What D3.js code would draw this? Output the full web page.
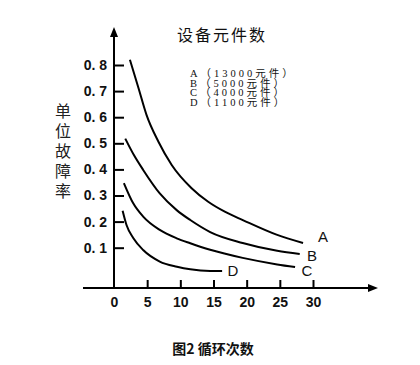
<!DOCTYPE html>
<html><head><meta charset="utf-8">
<script src="https://cdn.jsdelivr.net/npm/d3@7"></script>
<style>body{margin:0;background:#fff}svg{display:block}</style>
</head><body>
<svg id="c" width="420" height="365"></svg>
<script>
const title = "设备元件数";
const yLabel = "单位故障率";
const caption = "图2 循环次数";
const xTicks = [0, 5, 10, 15, 20, 25, 30];
const yTicks = [0.1, 0.2, 0.3, 0.4, 0.5, 0.6, 0.7, 0.8];
const yTickLabels = ["0. 1", "0. 2", "0. 3", "0. 4", "0. 5", "0. 6", "0. 7", "0. 8"];
const seriesNames = ["A", "B", "C", "D"];
const legendTexts = ["A（13000元件）", "B（5000元件）", "C（4000元件）", "D（1100元件）"];
const cyclesA = [2.4, 3.7, 4.9, 6.7, 8.7, 11.7, 14.2, 16.7, 19.5, 24.5, 28.5];
const rateA   = [0.82, 0.711, 0.609, 0.506, 0.417, 0.328, 0.276, 0.238, 0.205, 0.15, 0.118];
const cyclesB = [1.7, 3, 4.4, 6.9, 9.45, 11.5, 14.5, 19.4, 24.6, 28.0];
const rateB   = [0.518, 0.455, 0.398, 0.308, 0.244, 0.206, 0.16, 0.118, 0.088, 0.076];
const cyclesC = [1.5, 2.9, 4.4, 6.9, 9.45, 11.5, 14.5, 19.4, 24.6, 27.3];
const rateC   = [0.347, 0.27, 0.219, 0.168, 0.136, 0.117, 0.092, 0.061, 0.036, 0.026];
const cyclesD = [1.3, 1.9, 2.9, 4.4, 6.9, 9.5, 11.5, 14.5, 16.3];
const rateD   = [0.242, 0.186, 0.137, 0.091, 0.047, 0.027, 0.017, 0.011, 0.011];

const series = [
  {name: "A", xs: cyclesA, ys: rateA},
  {name: "B", xs: cyclesB, ys: rateB},
  {name: "C", xs: cyclesC, ys: rateC},
  {name: "D", xs: cyclesD, ys: rateD}
];

const svg = d3.select("#c");
const x = d3.scaleLinear().domain([0, 30]).range([114, 313]);
const y = d3.scaleLinear().domain([0, 0.8]).range([273.8, 65]);
const axisY = 288;
const cjk = "'Noto Sans CJK SC', sans-serif";
const sans = "'Liberation Sans', Arial, sans-serif";

// y axis ticks + labels
const gy = svg.append("g").attr("transform", `translate(${x(0)},0)`)
  .call(d3.axisLeft(y).tickValues(yTicks).tickFormat((d,i)=>yTickLabels[i])
        .tickSizeInner(-10).tickSizeOuter(0).tickPadding(7));
gy.select(".domain").remove();
gy.selectAll(".tick line").attr("stroke", "#000").attr("stroke-width", 2);
gy.selectAll(".tick text").attr("font-family", sans).attr("font-size", 14)
  .attr("font-weight", "bold").attr("fill", "#111");

// x axis
const gx = svg.append("g").attr("transform", `translate(0,${axisY})`)
  .call(d3.axisBottom(x).tickValues(xTicks).tickFormat(d3.format("d"))
        .tickSizeInner(-8).tickSizeOuter(0).tickPadding(9));
gx.select(".domain").remove();
gx.selectAll(".tick line").attr("stroke", "#000").attr("stroke-width", 2)
  .attr("display", d => d === 0 ? "none" : null);
gx.selectAll(".tick text").attr("font-family", sans).attr("font-size", 14)
  .attr("font-weight", "bold").attr("fill", "#111");

// axis lines with arrows
svg.append("line").attr("x1", 83).attr("x2", 372).attr("y1", axisY).attr("y2", axisY)
  .attr("stroke", "#000").attr("stroke-width", 2);
svg.append("path").attr("d", `M378,${axisY} L368,${axisY-4} L368,${axisY+4} Z`).attr("fill", "#000");
svg.append("line").attr("x1", x(0)).attr("x2", x(0)).attr("y1", axisY+1).attr("y2", 34)
  .attr("stroke", "#000").attr("stroke-width", 2);
svg.append("path").attr("d", `M${x(0)},27 L${x(0)-4},37 L${x(0)+4},37 Z`).attr("fill", "#000");

// curves
const line = d3.line().x(d => x(d[0])).y(d => y(d[1])).curve(d3.curveMonotoneX);
series.forEach(s => {
  const pts = s.xs.map((v, i) => [v, s.ys[i]]);
  svg.append("path").attr("d", line(pts)).attr("fill", "none")
    .attr("stroke", "#000").attr("stroke-width", 2);
});

// curve labels
const labelPos = [[323, 237], [312, 256], [307, 271], [233, 271]];
seriesNames.forEach((n, i) => {
  svg.append("text").attr("x", labelPos[i][0]).attr("y", labelPos[i][1] + 5)
    .attr("text-anchor", "middle").attr("font-family", sans).attr("font-size", 15)
    .attr("fill", "#111").text(n);
});

// title
svg.append("text").attr("x", 222).attr("y", 41).attr("text-anchor", "middle")
  .attr("font-family", cjk).attr("font-size", 16).attr("letter-spacing", 2)
  .attr("fill", "#111").text(title);

// legend (one text block, one line per series)
const leg = svg.append("text").attr("x", 190).attr("y", 77)
  .attr("font-family", "'Liberation Serif', 'Noto Sans CJK SC', serif")
  .attr("font-size", 10.5).attr("letter-spacing", 3).attr("fill", "#111");
legendTexts.forEach((t, i) => {
  leg.append("tspan").attr("x", 190).attr("dy", i === 0 ? 0 : 9.7).text(t);
});

// y label (vertical)
svg.append("text").attr("x", 63).attr("y", 153).attr("text-anchor", "middle")
  .style("writing-mode", "vertical-rl").attr("dominant-baseline", "central")
  .attr("font-family", cjk).attr("font-size", 16).attr("letter-spacing", 4)
  .attr("fill", "#222").text(yLabel);

// caption
svg.append("text").attr("x", 213).attr("y", 354).attr("text-anchor", "middle")
  .attr("font-family", cjk).attr("font-size", 14).attr("font-weight", "bold")
  .attr("fill", "#111").text(caption);
</script>
</body></html>
